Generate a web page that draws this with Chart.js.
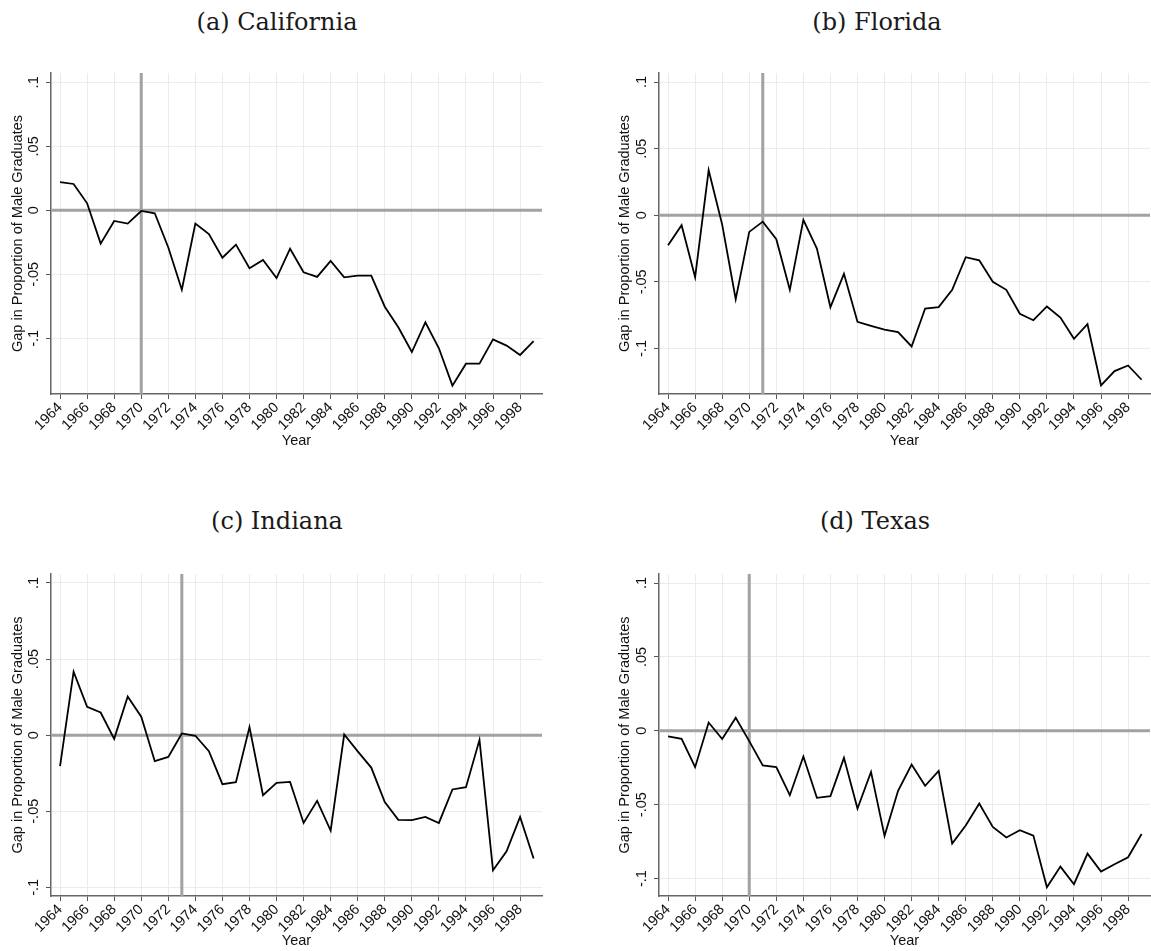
<!DOCTYPE html>
<html>
<head>
<meta charset="utf-8">
<script src="https://cdn.jsdelivr.net/npm/chart.js@4.4.1/dist/chart.umd.min.js"></script>
<style>
  body { margin: 0; background: #fff; width: 1151px; height: 951px; position: relative; overflow: hidden; }
  .ttl { position: absolute; font-family: "DejaVu Serif", "Liberation Serif", serif; font-size: 24px; color: #1a1a1a;
         white-space: nowrap; transform: translate(-50%, -50%); line-height: 1; }
  canvas { position: absolute; }
</style>
</head>
<body>
<script>
// values
const years = [1964, 1965, 1966, 1967, 1968, 1969, 1970, 1971, 1972, 1973,
               1974, 1975, 1976, 1977, 1978, 1979, 1980, 1981, 1982, 1983,
               1984, 1985, 1986, 1987, 1988, 1989, 1990, 1991, 1992, 1993,
               1994, 1995, 1996, 1997, 1998, 1999];

const california = [0.022, 0.0206, 0.0055, -0.026, -0.0083, -0.0104, -0.0005, -0.0023, -0.029, -0.062,
                    -0.0104, -0.0185, -0.037, -0.0268, -0.0453, -0.0388, -0.0529, -0.030, -0.0484, -0.052,
                    -0.0396, -0.0523, -0.051, -0.051, -0.0753, -0.0914, -0.1107, -0.0875, -0.1078, -0.137,
                    -0.1198, -0.1198, -0.1008, -0.1057, -0.113, -0.1021];

const florida = [-0.0225, -0.0075, -0.0465, 0.0338, -0.007, -0.063, -0.0125, -0.0048, -0.018, -0.056,
                 -0.0035, -0.025, -0.069, -0.044, -0.080, -0.083, -0.0858, -0.0878, -0.0985, -0.070,
                 -0.069, -0.056, -0.0315, -0.0338, -0.050, -0.056, -0.074, -0.0788, -0.0685, -0.0768,
                 -0.0928, -0.0818, -0.1278, -0.117, -0.1128, -0.1235];

const indiana = [-0.0204, 0.0417, 0.0186, 0.0149, -0.0024, 0.0254, 0.0121, -0.0171, -0.0143, 0.0011,
                 -0.0004, -0.0105, -0.0322, -0.0309, 0.0053, -0.0395, -0.0314, -0.0307, -0.0577, -0.0432,
                 -0.0627, 0.0004, -0.0107, -0.0213, -0.0439, -0.0557, -0.0559, -0.0537, -0.0577, -0.0357,
                 -0.0342, -0.0031, -0.0888, -0.0763, -0.0537, -0.0811];

const texas = [-0.0038, -0.0054, -0.0246, 0.0056, -0.0056, 0.0088, -0.007, -0.0235, -0.0246, -0.0436,
               -0.0174, -0.0454, -0.0442, -0.0183, -0.0526, -0.0278, -0.0711, -0.0406, -0.0228, -0.0372,
               -0.0271, -0.0763, -0.0641, -0.0492, -0.065, -0.0722, -0.0673, -0.0709, -0.1059, -0.0919,
               -0.1038, -0.0831, -0.0953, -0.0903, -0.0856, -0.0698];

const panelTitles = ['(a) California', '(b) Florida', '(c) Indiana', '(d) Texas'];
const treatYears = [1970, 1971, 1973, 1970];
const xTickYears = [1964, 1966, 1968, 1970, 1972, 1974, 1976, 1978, 1980,
                    1982, 1984, 1986, 1988, 1990, 1992, 1994, 1996, 1998];
const yTickValues = [-0.1, -0.05, 0, 0.05, 0.1];
const yTickLabels = ['-.1', '-.05', '0', '.05', '.1'];
const yTitle = 'Gap in Proportion of Male Graduates';
const xTitle = 'Year';

// layout of the four panels (pixels)
const panels = [
  { series: california, left: 0,   top: 40,  w: 575, h: 415, axisW: 51, padR: 33, padT: 33, plotB: 354,
    yMin: -0.1435, yMax: 0.1073, yTitlePad: 9, xTitlePad: 5, tx: 277, ty: 22 },
  { series: florida,    left: 575, top: 40,  w: 576, h: 415, axisW: 84, padR: 1,  padT: 33, plotB: 354,
    yMin: -0.1342, yMax: 0.1068, yTitlePad: 41, xTitlePad: 5, tx: 877, ty: 22 },
  { series: indiana,    left: 0,   top: 540, w: 575, h: 411, axisW: 51, padR: 33, padT: 34, plotB: 356,
    yMin: -0.1057, yMax: 0.1059, yTitlePad: 9, xTitlePad: 1, tx: 277, ty: 521 },
  { series: texas,      left: 575, top: 540, w: 576, h: 411, axisW: 84, padR: 1,  padT: 34, plotB: 356,
    yMin: -0.1118, yMax: 0.1061, yTitlePad: 41, xTitlePad: 1, tx: 875, ty: 521 }
];

const tickFont = { family: '"Liberation Sans", Arial, sans-serif', size: 14.5 };
const titleFont = { family: '"Liberation Sans", Arial, sans-serif', size: 14.5 };
Chart.defaults.color = '#111';

// grey reference lines at zero and at the treatment year
const refLines = {
  id: 'refLines',
  beforeDatasetsDraw(chart, args, opts) {
    const { ctx, chartArea: a, scales: { x, y } } = chart;
    const y0 = y.getPixelForValue(0);
    const xv = x.getPixelForValue(opts.year);
    ctx.save();
    ctx.strokeStyle = '#a2a2a2';
    ctx.lineWidth = 3;
    ctx.beginPath();
    ctx.moveTo(a.left, y0);
    ctx.lineTo(a.right, y0);
    ctx.moveTo(xv, a.top);
    ctx.lineTo(xv, a.bottom);
    ctx.stroke();
    ctx.restore();
  }
};

panels.forEach(function(p, i) {
  const t = document.createElement('div');
  t.className = 'ttl';
  t.textContent = panelTitles[i];
  t.style.left = p.tx + 'px';
  t.style.top = p.ty + 'px';
  document.body.appendChild(t);

  const cv = document.createElement('canvas');
  cv.width = p.w;
  cv.height = p.h;
  cv.style.left = p.left + 'px';
  cv.style.top = p.top + 'px';
  cv.style.width = p.w + 'px';
  cv.style.height = p.h + 'px';
  document.body.appendChild(cv);

  new Chart(cv.getContext('2d'), {
    type: 'line',
    data: {
      datasets: [{
        data: years.map((yr, k) => ({ x: yr, y: p.series[k] })),
        borderColor: '#000',
        borderWidth: 1.8,
        pointRadius: 0,
        tension: 0,
        fill: false
      }]
    },
    options: {
      responsive: false,
      animation: false,
      layout: { padding: { left: 0, right: p.padR, top: p.padT, bottom: 0 } },
      plugins: {
        legend: { display: false },
        tooltip: { enabled: false },
        refLines: { year: treatYears[i] }
      },
      scales: {
        x: {
          type: 'linear',
          min: 1963.33,
          max: 1999.62,
          afterBuildTicks: s => { s.ticks = xTickYears.map(v => ({ value: v })); },
          afterFit: s => { s.height = p.h - p.plotB; },
          ticks: { minRotation: 45, maxRotation: 45, autoSkip: false, padding: 0, font: tickFont,
                   callback: v => String(v) },
          grid: { color: '#ebebeb', lineWidth: 1, tickColor: '#555', tickLength: 5 },
          border: { color: '#666', width: 1.5 },
          title: { display: true, text: xTitle, font: titleFont, padding: { top: 0, bottom: p.xTitlePad } }
        },
        y: {
          min: p.yMin,
          max: p.yMax,
          afterBuildTicks: s => { s.ticks = yTickValues.map(v => ({ value: v })); },
          afterFit: s => { s.width = p.axisW; },
          ticks: { minRotation: 90, maxRotation: 90, crossAlign: 'center', autoSkip: false, padding: 0,
                   font: tickFont, callback: (v, k) => yTickLabels[k] },
          grid: { color: '#ebebeb', lineWidth: 1, tickColor: '#555', tickLength: 5 },
          border: { color: '#666', width: 1.5 },
          title: { display: true, text: yTitle, font: titleFont, padding: { top: p.yTitlePad, bottom: 0 } }
        }
      }
    },
    plugins: [refLines]
  });
});
</script>
</body>
</html>
